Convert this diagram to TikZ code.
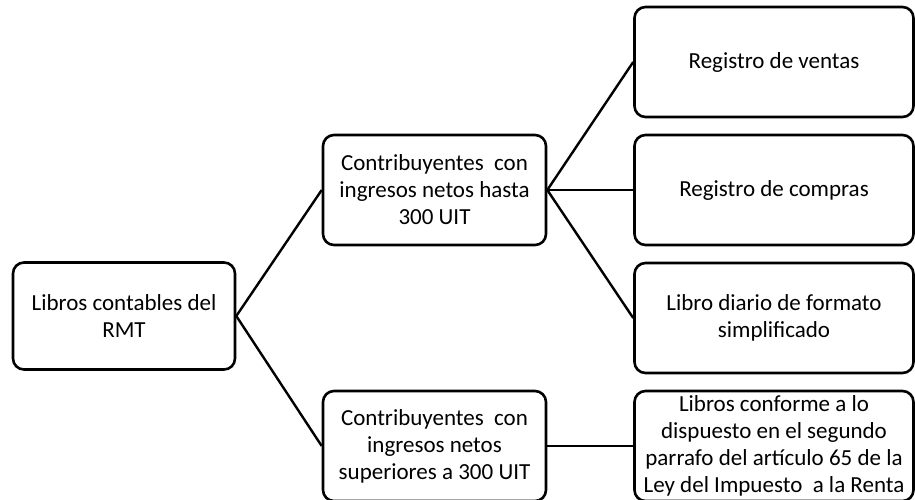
\documentclass[tikz,border=0pt]{standalone}
\usepackage{fontspec}
\setmainfont{Carlito}
\begin{document}
\begin{tikzpicture}[x=1pt,y=-1pt,
  box/.style={draw=black, line width=2.6pt, rounded corners=11pt, align=center,
    inner sep=1pt, font=\fontsize{23}{27}\selectfont},
  conn/.style={draw=black, line width=2.4pt}]
\useasboundingbox (0,0) rectangle (915,499);
\node[box, minimum width=222pt, minimum height=107pt] (root) at (124,316) {Libros contables del\\RMT};
\node[box, minimum width=223pt, minimum height=110pt] (m1) at (434.5,190) {Contribuyentes~ con\\ingresos netos hasta\\300 UIT};
\node[box, minimum width=223pt, minimum height=110pt] (m2) at (434.5,446) {Contribuyentes~ con\\ingresos netos\\superiores a 300 UIT};
\node[box, minimum width=279pt, minimum height=110pt] (r1) at (774,62) {Registro de ventas};
\node[box, minimum width=279pt, minimum height=110pt] (r2) at (774,190) {Registro de compras};
\node[box, minimum width=279pt, minimum height=110pt] (r3) at (774,318) {Libro diario de formato\\simplificado};
\node[box, minimum width=279pt, minimum height=110pt] (r4) at (774,446) {Libros conforme a lo\\dispuesto en el segundo\\parrafo del artículo 65 de la\\Ley del Impuesto~ a la Renta};
\draw[conn] (root.east) -- (m1.west);
\draw[conn] (root.east) -- (m2.west);
\draw[conn] (m1.east) -- (r1.west);
\draw[conn] (m1.east) -- (r2.west);
\draw[conn] (m1.east) -- (r3.west);
\draw[conn] (m2.east) -- (r4.west);
\end{tikzpicture}
\end{document}
